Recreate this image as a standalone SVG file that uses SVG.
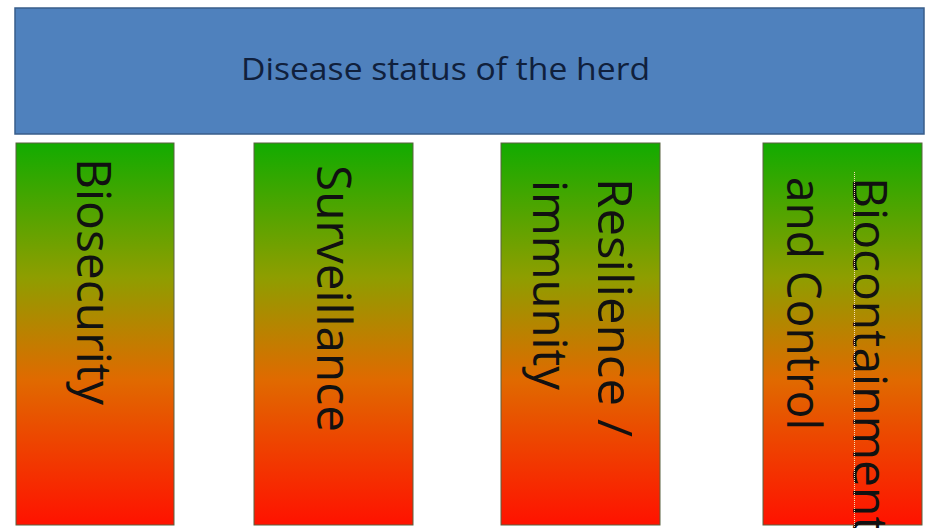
<svg xmlns="http://www.w3.org/2000/svg" width="927" height="528" viewBox="0 0 927 528">
<defs>
<linearGradient id="gr" x1="0" y1="0" x2="0" y2="1">
<stop offset="0" stop-color="#12ab00"/>
<stop offset="0.35" stop-color="#8e9e00"/>
<stop offset="0.62" stop-color="#e06a00"/>
<stop offset="1" stop-color="#ff1200"/>
</linearGradient>
<style>
.pillar{fill:url(#gr);stroke:#5b6340;stroke-width:1}
.pt{font-family:"Open Sans","Liberation Sans",sans-serif;font-size:48px;fill:#111}
.tt{font-family:"Open Sans","Liberation Sans",sans-serif;font-size:31px;fill:#10203c}
</style>
</defs>
<rect width="927" height="528" fill="#ffffff"/>
<g id="top">
<rect x="15" y="8" width="909" height="126" fill="#4f81bd" stroke="#385d8a" stroke-width="1.5"/>
<text class="tt" x="241" y="80" textLength="409" lengthAdjust="spacingAndGlyphs">Disease status of the herd</text>
</g>
<g id="biosecurity">
<rect class="pillar" x="16" y="143" width="158" height="382"/>
<text class="pt" transform="translate(77,158) rotate(90)" textLength="247" lengthAdjust="spacingAndGlyphs">Biosecurity</text>
</g>
<g id="surveillance">
<rect class="pillar" x="254" y="143" width="159" height="382"/>
<text class="pt" transform="translate(317,165) rotate(90)" textLength="267" lengthAdjust="spacingAndGlyphs">Surveillance</text>
</g>
<g id="resilience">
<rect class="pillar" x="501" y="143" width="159" height="382"/>
<text class="pt" transform="translate(598,178) rotate(90)" textLength="259" lengthAdjust="spacingAndGlyphs">Resilience /</text>
<text class="pt" transform="translate(533,180) rotate(90)" textLength="210" lengthAdjust="spacingAndGlyphs">immunity</text>
</g>
<g id="biocontainment">
<rect class="pillar" x="763" y="143" width="159" height="382"/>
<text class="pt" transform="translate(853,177) rotate(90)">Biocontainment</text>
<text class="pt" transform="translate(787,177) rotate(90)" textLength="253" lengthAdjust="spacingAndGlyphs">and Control</text>
<line x1="854.5" y1="172" x2="854.5" y2="528" stroke="#f6dcb0" stroke-width="1" stroke-dasharray="1 1"/>
</g>
<g id="connectors"></g>
</svg>
